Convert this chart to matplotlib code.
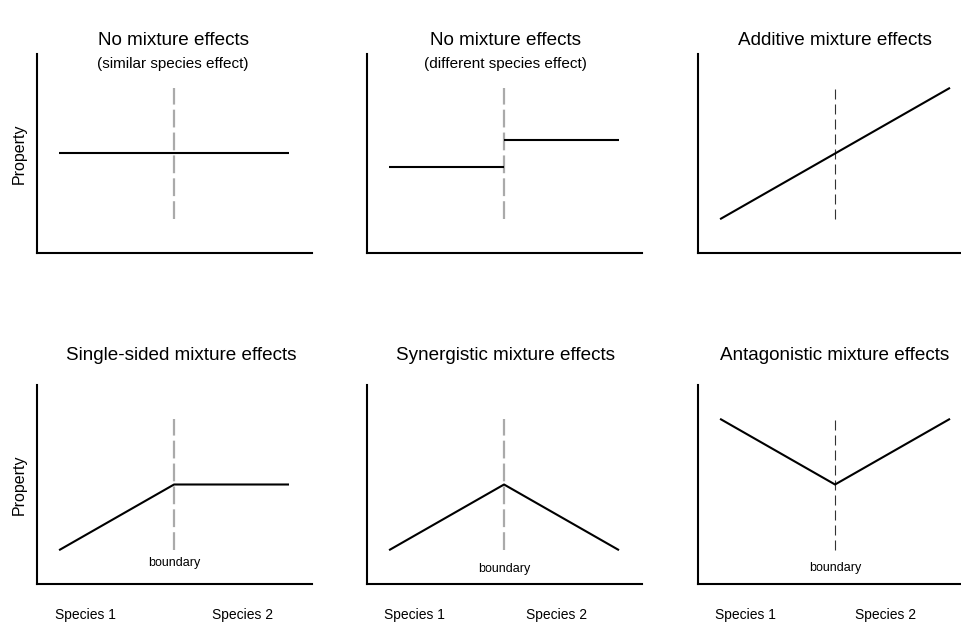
import matplotlib
matplotlib.use("Agg")
import matplotlib.pyplot as plt

plt.rcParams["font.family"] = ["Liberation Sans", "DejaVu Sans"]

# shared x positions: species 1 end, boundary, species 2 end
x_pts = [0.0, 0.5, 1.0]

titles = [
    "No mixture effects",
    "No mixture effects",
    "Additive mixture effects",
    "Single-sided mixture effects",
    "Synergistic mixture effects",
    "Antagonistic mixture effects",
]
subtitles = ["(similar species effect)", "(different species effect)", "", "", "", ""]

# property values at x_pts
similar = [0.5, 0.5, 0.5]
diff_left = [0.43, 0.43]
diff_right = [0.57, 0.57]
additive = [0.17, 0.5, 0.83]
single_sided = [0.17, 0.5, 0.5]
synergistic = [0.17, 0.5, 0.17]
antagonistic = [0.83, 0.5, 0.83]

boundary_y = [0.17, 0.83]
boundary_lbl_y = [0.105, 0.075, 0.08]
species_x = [(0.113, 0.796), (0.109, 0.730), (0.109, 0.72)]
title_x = [0.495, 0.505, 0.498, 0.524, 0.505, 0.498]

fig = plt.figure(figsize=(9.62, 6.26), dpi=100)
lefts = [37 / 962, 367 / 962, 698 / 962]
bottoms = [(626 - 253) / 626, (626 - 584) / 626]
w, h = 275 / 962, 199 / 626

axes = []
for r in range(2):
    for c in range(3):
        ax = fig.add_axes([lefts[c], bottoms[r], w, h])
        ax.set_xlim(-0.096, 1.1)
        ax.set_ylim(0, 1)
        for s in ["top", "right"]:
            ax.spines[s].set_visible(False)
        for s in ["left", "bottom"]:
            ax.spines[s].set_linewidth(1.5)
        ax.set_xticks([])
        ax.set_yticks([])
        axes.append(ax)

line_kw = dict(color="black", lw=1.5, solid_capstyle="butt")
grey_kw = dict(color="#aaaaaa", lw=1.6, dashes=(8, 2.3))
dark_kw = dict(color="#333333", lw=0.8, dashes=(9, 4.5))

for i, ax in enumerate(axes):
    kw = dark_kw if i in (2, 5) else grey_kw
    ax.plot([0.5, 0.5], boundary_y, **kw)

axes[0].plot(x_pts, similar, **line_kw)
axes[1].plot(x_pts[:2], diff_left, **line_kw)
axes[1].plot(x_pts[1:], diff_right, **line_kw)
axes[2].plot(x_pts, additive, **line_kw)
axes[3].plot(x_pts, single_sided, **line_kw)
axes[4].plot(x_pts, synergistic, **line_kw)
axes[5].plot(x_pts, antagonistic, **line_kw)

for i, ax in enumerate(axes):
    ty = 1.07 if i < 3 else 1.15
    ax.text(title_x[i], ty, titles[i], transform=ax.transAxes,
            ha="center", va="center", fontsize=13.6)
    if subtitles[i]:
        ax.text(title_x[i], 0.95, subtitles[i], transform=ax.transAxes,
                ha="center", va="center", fontsize=11)

for ax in (axes[0], axes[3]):
    ax.text(-0.065, 0.5, "Property", transform=ax.transAxes, rotation=90,
            ha="center", va="center", fontsize=11.5)

for j, ax in enumerate(axes[3:]):
    ax.text(0.5, boundary_lbl_y[j], "boundary", ha="center", va="center", fontsize=9)
    s1, s2 = species_x[j]
    ax.text(s1, -0.156, "Species 1", ha="center", va="center", fontsize=10)
    ax.text(s2, -0.156, "Species 2", ha="center", va="center", fontsize=10)

fig.savefig("out.png", dpi=100)
